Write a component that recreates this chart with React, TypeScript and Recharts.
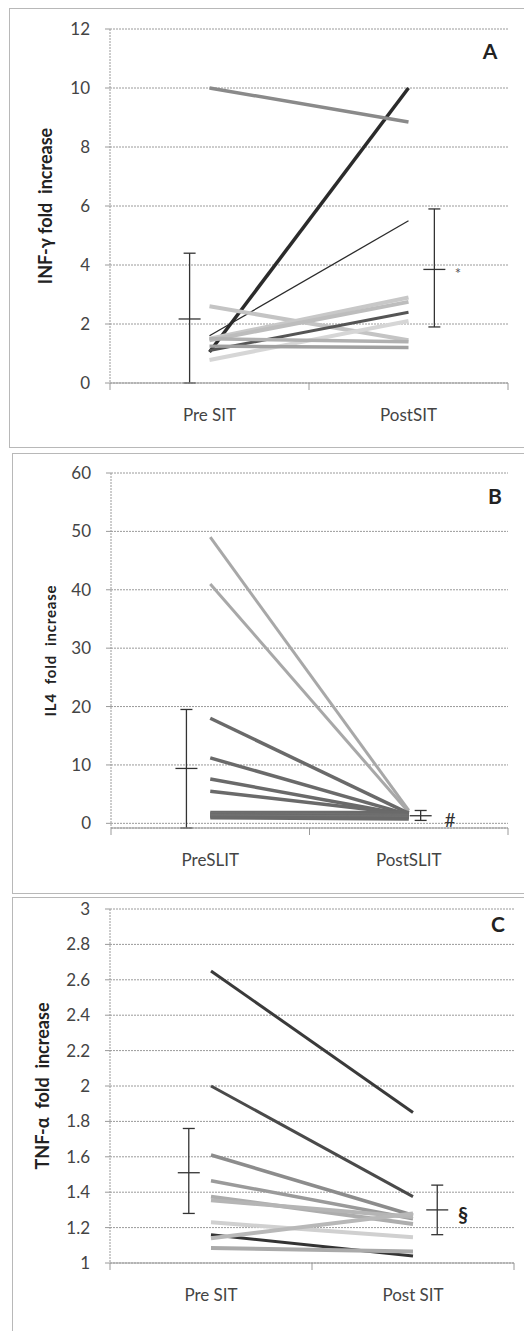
import React from "react";
import {
  ComposedChart,
  Line,
  Scatter,
  ErrorBar,
  XAxis,
  YAxis,
  CartesianGrid,
} from "recharts";

// ---- panel A : INF-γ ----
const infPre = [1.05, 10.0, 1.6, 2.6, 1.5, 1.45, 1.1, 0.78, 1.25, 1.5];
const infPost = [10.0, 8.85, 5.5, 1.45, 2.9, 2.75, 2.4, 2.1, 1.2, 1.4];
const infMean = [2.17, 3.85];
const infLow = [0, 1.9];
const infHigh = [4.4, 5.9];
const infTicks = [0, 2, 4, 6, 8, 10, 12];

// ---- panel B : IL4 ----
const il4Pre = [49, 41, 18, 11.2, 7.6, 5.5, 1.8, 1.6, 1.4, 1.2, 1.0];
const il4Post = [2.2, 1.9, 1.7, 1.5, 1.4, 1.6, 1.8, 1.3, 1.1, 1.0, 0.8];
const il4Mean = [9.4, 1.3];
const il4Low = [-0.8, 0.5];
const il4High = [19.5, 2.2];
const il4Ticks = [0, 10, 20, 30, 40, 50, 60];

// ---- panel C : TNF-α ----
const tnfPre = [2.65, 2.0, 1.61, 1.465, 1.375, 1.355, 1.23, 1.16, 1.14, 1.085];
const tnfPost = [1.85, 1.375, 1.27, 1.25, 1.22, 1.26, 1.145, 1.04, 1.28, 1.065];
const tnfMean = [1.51, 1.3];
const tnfLow = [1.28, 1.16];
const tnfHigh = [1.76, 1.44];
const tnfTicks = [1, 1.2, 1.4, 1.6, 1.8, 2, 2.2, 2.4, 2.6, 2.8, 3];

// line styles
const infColors = ["#2b2b2b", "#8a8a8a", "#2b2b2b", "#c4c4c4", "#c8c8c8", "#bdbdbd", "#555555", "#d6d6d6", "#a0a0a0", "#b0b0b0"];
const infWidths = [3.5, 3.5, 1.3, 4, 4, 4, 3, 4, 3.5, 3.5];
const il4Colors = ["#a8a8a8", "#a8a8a8", "#6a6a6a", "#6a6a6a", "#6a6a6a", "#6a6a6a", "#6a6a6a", "#707070", "#6a6a6a", "#737373", "#6a6a6a"];
const il4Widths = [3, 3, 3.5, 3.5, 3.5, 3.5, 4, 4, 4, 4, 4];
const tnfColors = ["#3a3a3a", "#4a4a4a", "#8c8c8c", "#9a9a9a", "#adadad", "#b5b5b5", "#d0d0d0", "#333333", "#b8b8b8", "#aaaaaa"];
const tnfWidths = [3, 3, 3.5, 3.5, 4, 4, 4, 3, 4, 4];

const FONT = "Lato, 'Open Sans', sans-serif";
const GRID = "#9a9a9a";

const XTick = (props: any) => {
  const { x, y, payload, labels } = props;
  const v = payload.value;
  if (Number.isInteger(v)) {
    return <line x1={x} x2={x} y1={y - 6} y2={y + 1} stroke={GRID} />;
  }
  return (
    <text x={x} y={y + 32} textAnchor="middle" fill="#444" fontSize={17} fontFamily={FONT}>
      {labels[v < 1 ? 0 : 1]}
    </text>
  );
};

const MeanMark = (props: any) => {
  const { cx, cy } = props;
  return <line x1={cx - 11} x2={cx + 11} y1={cy} y2={cy} stroke="#333" strokeWidth={1.3} />;
};

type PanelProps = {
  top: number;
  height: number;
  margin: { top: number; right: number; bottom: number; left: number };
  yWidth: number;
  pre: number[];
  post: number[];
  colors: string[];
  widths: number[];
  mean: number[];
  low: number[];
  high: number[];
  errX: number[];
  yTicks: number[];
  xLabels: string[];
  yLabel: string;
  yLabelSize: number;
  yLabelX: number;
  yLabelSpacing?: number;
};

const Panel = (p: PanelProps) => {
  const rows = [0.5, 1.5].map((x, i) => {
    const row: any = { x };
    const vals = i === 0 ? p.pre : p.post;
    vals.forEach((v, k) => (row["s" + k] = v));
    return row;
  });
  const errRows = p.mean.map((m, i) => ({
    x: p.errX[i],
    y: m,
    err: [m - p.low[i], p.high[i] - m],
  }));
  const lo = p.yTicks[0];
  const hi = p.yTicks[p.yTicks.length - 1];
  return (
    <div style={{ position: "absolute", left: 0, top: p.top }}>
      <ComposedChart width={524} height={p.height} data={rows} margin={p.margin}>
        <CartesianGrid vertical={false} stroke={GRID} strokeDasharray="2 1" />
        <XAxis
          type="number"
          dataKey="x"
          domain={[0, 2]}
          ticks={[0, 0.5, 1, 1.5, 2]}
          interval={0}
          tickLine={false}
          tickSize={6}
          tickMargin={0}
          height={40}
          axisLine={{ stroke: GRID }}
          tick={<XTick labels={p.xLabels} />}
        />
        <YAxis
          type="number"
          domain={() => [lo, hi]}
          ticks={p.yTicks}
          interval={0}
          width={p.yWidth}
          tickSize={5}
          tickMargin={15}
          axisLine={{ stroke: GRID, strokeDasharray: "2 1" }}
          tickLine={{ stroke: GRID }}
          tick={{ fill: "#444", fontSize: 17, fontFamily: FONT }}
          label={{
            content: (lp: any) => {
              const vb = lp.viewBox;
              const cx = p.yLabelX;
              const cy = vb.y + vb.height / 2;
              return (
                <text
                  x={cx}
                  y={cy}
                  transform={`rotate(-90 ${cx} ${cy})`}
                  textAnchor="middle"
                  dominantBaseline="central"
                  fontWeight="bold"
                  fontSize={p.yLabelSize}
                  fontFamily={FONT}
                  letterSpacing={p.yLabelSpacing || 0}
                  fill="#222"
                  style={{ whiteSpace: "pre" }}
                >
                  {p.yLabel}
                </text>
              );
            },
          }}
        />
        {p.pre.map((_, k) => (
          <Line
            key={k}
            dataKey={"s" + k}
            stroke={p.colors[k]}
            strokeWidth={p.widths[k]}
            dot={false}
            activeDot={false}
            isAnimationActive={false}
          />
        ))}
        <Scatter data={errRows} dataKey="y" shape={<MeanMark />} isAnimationActive={false}>
          <ErrorBar dataKey="err" direction="y" width={6} stroke="#333" strokeWidth={1.3} />
        </Scatter>
      </ComposedChart>
    </div>
  );
};

const note = (left: number, top: number, text: string, size: number, bold = false, color = "#222") => (
  <div
    style={{
      position: "absolute",
      left,
      top,
      transform: "translate(-50%, -50%)",
      fontSize: size,
      fontWeight: bold ? "bold" : "normal",
      fontFamily: FONT,
      color,
      lineHeight: 1,
    }}
  >
    {text}
  </div>
);

const frame = (left: number, top: number, bottom: number) => (
  <div
    style={{
      position: "absolute",
      left,
      top,
      width: 560,
      height: bottom - top,
      border: "1px solid #b8b8b8",
      boxSizing: "border-box",
    }}
  />
);

export default function App() {
  return (
    <div
      style={{
        position: "absolute",
        left: 0,
        top: 0,
        width: 524,
        height: 1331,
        overflow: "hidden",
        background: "#fff",
        fontFamily: FONT,
      }}
    >
      {frame(9, 8, 448)}
      {frame(12, 453, 894)}
      {frame(12, 897, 1360)}
      <Panel
        top={0}
        height={445}
        margin={{ top: 29, right: 16, bottom: 22, left: 0 }}
        yWidth={110}
        pre={infPre}
        post={infPost}
        colors={infColors}
        widths={infWidths}
        mean={infMean}
        low={infLow}
        high={infHigh}
        errX={[0.4, 1.63]}
        yTicks={infTicks}
        xLabels={["Pre SIT", "PostSIT"]}
        yLabel={"INF-γ fold  increase"}
        yLabelSize={18}
        yLabelX={45}
      />
      <Panel
        top={440}
        height={450}
        margin={{ top: 33, right: 16, bottom: 22, left: 0 }}
        yWidth={111}
        pre={il4Pre}
        post={il4Post}
        colors={il4Colors}
        widths={il4Widths}
        mean={il4Mean}
        low={il4Low}
        high={il4High}
        errX={[0.38, 1.56]}
        yTicks={il4Ticks}
        xLabels={["PreSLIT", "PostSLIT"]}
        yLabel={"IL4  fold  increase"}
        yLabelSize={15}
        yLabelX={50}
        yLabelSpacing={0.8}
      />
      <Panel
        top={880}
        height={451}
        margin={{ top: 29, right: 10, bottom: 28, left: 0 }}
        yWidth={110}
        pre={tnfPre}
        post={tnfPost}
        colors={tnfColors}
        widths={tnfWidths}
        mean={tnfMean}
        low={tnfLow}
        high={tnfHigh}
        errX={[0.39, 1.62]}
        yTicks={tnfTicks}
        xLabels={["Pre SIT", "Post SIT"]}
        yLabel={"TNF-α  fold  increase"}
        yLabelSize={18}
        yLabelX={42}
      />
      {note(490, 50, "A", 21, true)}
      {note(495, 495, "B", 21, true)}
      {note(498, 923, "C", 21, true)}
      {note(458, 273, "*", 15, false, "#555")}
      {note(450, 819, "#", 19, false, "#333")}
      {note(463, 1214, "§", 20, true, "#222")}
    </div>
  );
}
